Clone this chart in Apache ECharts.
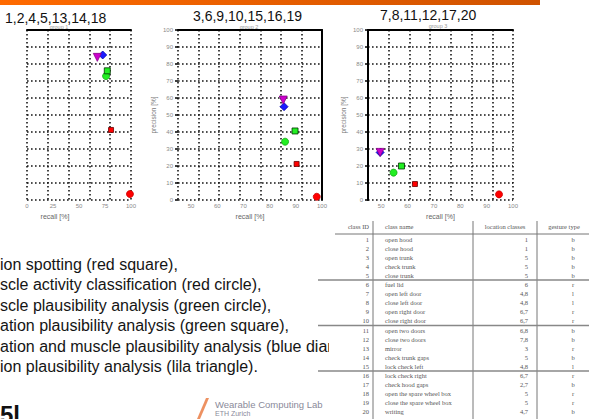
<!DOCTYPE html>
<html>
<head>
<meta charset="utf-8">
<script src="https://cdn.jsdelivr.net/npm/echarts@6/dist/echarts.min.js"></script>
<style>
  html, body { margin: 0; padding: 0; background: #fff; }
  #slide { width: 589px; height: 419px; }
</style>
</head>
<body>
<div id="slide"></div>
<script>
// Panel headings: which classes belong to each group
const groupTitles = ['1,2,4,5,13,14,18', '3,6,9,10,15,16,19', '7,8,11,12,17,20'];
const groupNames = ['group 1', 'group 2', 'group 3'];

// One marker per method, drawn in this order
const markerNames = ['red square', 'red circle', 'green circle', 'green square', 'blue diamond', 'lila triangle'];

// recall [%] / precision [%] per method
const recallG1 = [80.8, 99.0, 76.0, 77.2, 72.8, 67.6];
const precisionG1 = [41.2, 3.5, 72.9, 76.0, 85.3, 83.9];
const recallG2 = [90.3, 98.0, 85.9, 89.7, 85.5, 85.2];
const precisionG2 = [21.2, 1.9, 34.3, 40.6, 54.9, 58.8];
const recallG3 = [62.8, 94.7, 54.7, 57.7, 49.6, 49.6];
const precisionG3 = [9.4, 3.3, 16.1, 20.0, 28.0, 28.0];

// Axis tick values
const recallTicksG1 = [0, 25, 50, 75, 100];
const recallTicksG23 = [50, 60, 70, 80, 90, 100];
const precisionTicks = [0, 10, 20, 30, 40, 50, 60, 70, 80, 90, 100];

// Legend text below the panels
const noteLines = [
  'ion spotting (red square),',
  'scle activity classification (red circle),',
  'scle plausibility analysis (green circle),',
  'ation plausibility analysis (green square),',
  'ation and muscle plausibility analysis (blue diam',
  'ion plausibility analysis (lila triangle).'
];

// Class table
const tableHeader = ['class ID', 'class name', 'location classes', 'gesture type'];
const classIds = ['1', '2', '3', '4', '5', '6', '7', '8', '9', '10', '11', '12', '13', '14', '15', '16', '17', '18', '19', '20'];
const classNames = ['open hood', 'close hood', 'open trunk', 'check trunk', 'close trunk', 'fuel lid', 'open left door',
  'close left door', 'open right door', 'close right door', 'open two doors', 'close two doors', 'mirror',
  'check trunk gaps', 'lock check left', 'lock check right', 'check hood gaps', 'open the spare wheel box',
  'close the spare wheel box', 'writing'];
const locationClasses = ['1', '1', '5', '5', '5', '6', '4,8', '4,8', '6,7', '6,7', '6,8', '7,8', '3', '5', '4,8', '6,7', '2,7', '5', '5', '4,7'];
const gestureTypes = ['b', 'b', 'b', 'b', 'b', 'r', 'l', 'l', 'r', 'r', 'b', 'b', 'r', 'b', 'l', 'r', 'b', 'r', 'r', 'b'];

const SANS = 'Liberation Sans, Arial, sans-serif';
const SERIF = 'Liberation Serif, Times New Roman, serif';

const markerStyles = [
  { symbol: 'rect', size: 5, color: '#ff0000', border: '#600' },
  { symbol: 'circle', size: 7, color: '#ff0000', border: '#c00' },
  { symbol: 'circle', size: 7, color: '#22ee22', border: '#1a1' },
  { symbol: 'rect', size: 6, color: '#22ee22', border: '#030' },
  { symbol: 'diamond', size: 8, color: '#1a1aff', border: '#00a' },
  { symbol: 'triangle', size: 8, color: '#cc00cc', border: '#808', rotate: 180 }
];

const panels = [
  { left: 27, width: 104, xMin: 0, xMax: 100, xStep: 25, xTicks: recallTicksG1, cols: 5, yLabels: false, recall: recallG1, precision: precisionG1 },
  { left: 178, width: 144, xMin: 45, xMax: 100, xStep: 5, xTicks: recallTicksG23, cols: 7, yLabels: true, rightBorder: true, recall: recallG2, precision: precisionG2 },
  { left: 368, width: 145, xMin: 45, xMax: 100, xStep: 5, xTicks: recallTicksG23, cols: 7, yLabels: true, leftLine: true, recall: recallG3, precision: precisionG3 }
];

const dotted = { color: '#161616', width: 1.6, type: [1.6, 2.4] };
const tickLabel = { fontSize: 6, color: '#8a8a8a', fontFamily: SANS };

const grid = [], xAxis = [], yAxis = [], series = [];

panels.forEach((p, i) => {
  grid.push({ left: p.left, top: 30, width: p.width, height: 170 });

  // recall axis
  xAxis.push({
    type: 'value', gridIndex: i, min: p.xMin, max: p.xMax, interval: p.xStep,
    axisLine: { show: false }, axisTick: { show: false }, splitLine: { show: false },
    axisLabel: Object.assign({ margin: 3, formatter: v => (p.xTicks.indexOf(v) >= 0 ? String(v) : '') }, tickLabel),
    name: 'recall [%]', nameLocation: 'middle', nameGap: 13,
    nameTextStyle: { fontSize: 7, color: '#666', fontFamily: SANS, padding: i === 0 ? [0, 48, 0, 0] : 0 }
  });
  // precision axis
  yAxis.push({
    type: 'value', gridIndex: i, min: 0, max: 100, interval: 10,
    axisLine: { show: !!p.leftLine, lineStyle: { color: '#000', width: 2 } },
    axisTick: { show: p.yLabels, length: 3, lineStyle: { color: '#000', width: 1.5 } },
    axisLabel: Object.assign({ show: p.yLabels, margin: 5, formatter: v => (precisionTicks.indexOf(v) >= 0 ? String(v) : '') }, tickLabel),
    splitLine: { show: true, lineStyle: dotted },
    name: p.yLabels ? 'precision [%]' : '', nameLocation: 'middle', nameGap: 21, nameRotate: 90,
    nameTextStyle: { fontSize: 6.5, color: '#777', fontFamily: SANS }
  });
});

// vertical dotted columns and the top frame line of each panel
panels.forEach((p, i) => {
  xAxis.push({
    type: 'value', gridIndex: i, position: 'top', min: 0, max: p.cols, interval: 1,
    axisLine: { show: true, onZero: false, lineStyle: { color: '#000', width: 2 } },
    axisTick: { show: false }, axisLabel: { show: false },
    splitLine: { show: true, lineStyle: dotted }
  });
});

// right frame line of the middle panel
yAxis.push({
  type: 'value', gridIndex: 1, position: 'right', min: 0, max: 100,
  axisLine: { show: true, lineStyle: { color: '#000', width: 2 } },
  axisTick: { show: false }, axisLabel: { show: false }, splitLine: { show: false }
});

panels.forEach((p, i) => {
  markerNames.forEach((name, k) => {
    const m = markerStyles[k];
    series.push({
      type: 'scatter', name: name, xAxisIndex: i, yAxisIndex: i,
      symbol: m.symbol, symbolSize: m.size, symbolRotate: m.rotate || 0,
      itemStyle: { color: m.color, borderColor: m.border, borderWidth: 0.8, opacity: 1 },
      data: [[p.recall[k], p.precision[k]]],
      z: 3 + k, silent: true
    });
  });
});

// slide decorations and text
const elements = [];
elements.push({
  type: 'rect', shape: { x: 0, y: 0, width: 540, height: 5 },
  style: { fill: new echarts.graphic.LinearGradient(0, 0, 1, 0, [{ offset: 0, color: '#ff6a00' }, { offset: 1, color: '#cf5200' }]) }
});

const titlePos = [[5, 18], [193, 16], [380, 15]];
groupTitles.forEach((t, i) => {
  elements.push({ type: 'text', x: titlePos[i][0], y: titlePos[i][1],
    style: { text: t, fontSize: 14, fontFamily: SANS, fill: '#111', textVerticalAlign: 'middle' } });
});
const subPos = [[59, 27], [249, 26.5], [438, 26]];
groupNames.forEach((t, i) => {
  elements.push({ type: 'text', x: subPos[i][0], y: subPos[i][1],
    style: { text: t, fontSize: 5.5, fontFamily: SANS, fill: '#999', textAlign: 'center', textVerticalAlign: 'middle' } });
});

noteLines.forEach((t, i) => {
  elements.push({ type: 'text', x: 0, y: 264 + i * 20.5,
    style: { text: t, fontSize: 16, fontFamily: SANS, fill: '#151515', textVerticalAlign: 'middle' } });
});

// bottom-left heading fragment and the lab logo
elements.push({ type: 'text', x: 0, y: 414,
  style: { text: '5l', fontSize: 24, fontWeight: 'bold', fontFamily: SANS, fill: '#111', textVerticalAlign: 'middle' } });
elements.push({ type: 'polygon', shape: { points: [[197, 419], [200, 419], [209, 398], [206, 398]] },
  style: { fill: '#e8763a', opacity: 0.8 } });
elements.push({ type: 'text', x: 215, y: 404,
  style: { text: 'Wearable Computing Lab', fontSize: 9.5, fontFamily: SANS, fill: '#8a8a9a', textVerticalAlign: 'middle' } });
elements.push({ type: 'text', x: 215, y: 413,
  style: { text: 'ETH Zurich', fontSize: 7, fontFamily: SANS, fill: '#8a8a9a', textVerticalAlign: 'middle' } });

// class table
const tTop = 218;
elements.push({ type: 'rect', shape: { x: 329, y: tTop, width: 260, height: 419 - tTop }, style: { fill: '#fff' } });
const colX = { id: 369, name: 385, loc: 528, type: 573 };
const rowY = i => 239 + i * 9.1;
const cellStyle = (text, align) => ({ text: text, fontSize: 6.5, fontFamily: SERIF, fill: '#555', textAlign: align, textVerticalAlign: 'middle' });
elements.push({ type: 'text', x: colX.id, y: 226, style: cellStyle(tableHeader[0], 'right') });
elements.push({ type: 'text', x: colX.name, y: 226, style: cellStyle(tableHeader[1], 'left') });
elements.push({ type: 'text', x: 505, y: 226, style: cellStyle(tableHeader[2], 'center') });
elements.push({ type: 'text', x: 564, y: 226, style: cellStyle(tableHeader[3], 'center') });
elements.push({ type: 'line', shape: { x1: 335, y1: 234, x2: 589, y2: 234 }, style: { stroke: '#777', lineWidth: 1 } });
[373, 473, 537].forEach(x => {
  elements.push({ type: 'line', shape: { x1: x, y1: 221, x2: x, y2: 419 }, style: { stroke: '#777', lineWidth: 1 } });
});
[5, 10, 15].forEach(r => {
  const y = rowY(r - 0.5);
  elements.push({ type: 'line', shape: { x1: 318, y1: y, x2: 589, y2: y }, style: { stroke: '#888', lineWidth: 1.5 } });
});
classIds.forEach((id, i) => {
  const y = rowY(i);
  elements.push({ type: 'text', x: colX.id, y: y, style: cellStyle(id, 'right') });
  elements.push({ type: 'text', x: colX.name, y: y, style: cellStyle(classNames[i], 'left') });
  elements.push({ type: 'text', x: colX.loc, y: y, style: cellStyle(locationClasses[i], 'right') });
  elements.push({ type: 'text', x: colX.type, y: y, style: cellStyle(gestureTypes[i], 'center') });
});

const chart = echarts.init(document.getElementById('slide'), null, { renderer: 'svg', width: 589, height: 419 });
chart.setOption({
  backgroundColor: '#fff',
  animation: false,
  grid: grid,
  xAxis: xAxis,
  yAxis: yAxis,
  series: series,
  graphic: { elements: elements }
});
</script>
</body>
</html>
